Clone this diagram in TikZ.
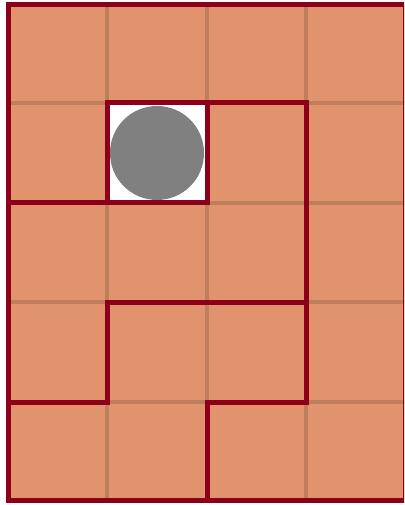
\documentclass[tikz,border=0pt]{standalone}
\begin{document}
\begin{tikzpicture}[x=0.75pt,y=-0.75pt,
  wall/.style={draw=wallred,line width=5*0.75pt,line cap=rect,line join=miter},
  gridline/.style={draw=gridbrown,line width=4*0.75pt}]
\definecolor{tile}{RGB}{224,147,108}
\definecolor{gridbrown}{RGB}{190,128,92}
\definecolor{wallred}{RGB}{140,0,25}
\definecolor{ball}{RGB}{128,128,128}
\useasboundingbox (0,0) rectangle (404,505);
\begin{scope}
\clip (0,0) rectangle (404,505);
\fill[tile] (8,5) rectangle (405,500);
\fill[white] (107,103) rectangle (207,203);
\foreach \x in {107,207,306} \draw[gridline] (\x,5) -- (\x,500);
\foreach \y in {103,203,302,402} \draw[gridline] (8,\y) -- (405,\y);
\fill[white] (109.5,105.5) rectangle (204.5,200.5);
\fill[ball] (157,153) circle (47);
\draw[wall] (8,5) rectangle (405,500);
\draw[wall] (107,203) -- (107,103) -- (306,103) -- (306,402) -- (207,402) -- (207,500);
\draw[wall] (8,203) -- (207,203) -- (207,103);
\draw[wall] (306,302) -- (107,302) -- (107,402) -- (8,402);
\end{scope}
\end{tikzpicture}
\end{document}
